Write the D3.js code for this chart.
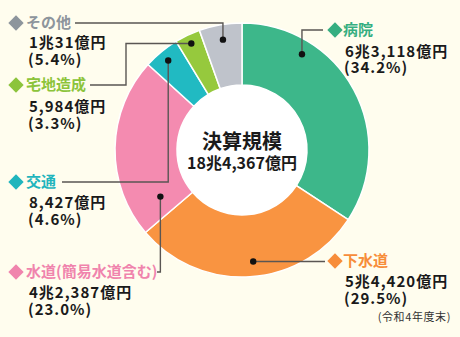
<!DOCTYPE html>
<html><head><meta charset="utf-8">
<script src="https://cdn.jsdelivr.net/npm/d3@7/dist/d3.min.js"></script>
<style>
html,body{margin:0;padding:0;background:#fffdee;}
svg{display:block;font-family:"Noto Sans CJK JP","Noto Sans",sans-serif;}
</style></head>
<body><svg id="c" width="460" height="337"></svg>
<script>
// ---- data ----
const categories = ["病院","下水道","水道(簡易水道含む)","交通","宅地造成","その他"];
const values = [63118, 54420, 42387, 8427, 5984, 10031]; // 億円
const valueLabels = ["6兆3,118億円","5兆4,420億円","4兆2,387億円","8,427億円","5,984億円","1兆31億円"];
const shareLabels = ["(34.2%)","(29.5%)","(23.0%)","(4.6%)","(3.3%)","(5.4%)"];
const centerTitle = "決算規模";
const centerTotal = "18兆4,367億円";
const note = "(令和4年度末)";

// ---- styles / layout ----
const sliceColors = ["#3db78a","#f99441","#f48bb0","#21bac2","#96c93d","#bfc3cb"];
const labelColors = ["#35ae80","#f78d3a","#f084ad","#1fb5bd","#8cc43b","#8d959c"];
const cx = 242, cy = 150, rOuter = 127, rInner = 65;
const anchorFrac = [0.26, 0.48, 0.13, 0.5, 0.5, 0.5];
const anchorR = [113, 112, 94, 116, 118, 112];
const leaderSteps = [
  [["v",30],["h",323]],
  [["h",325]],
  [["v",272],["h",157]],
  [["v",182],["h",62]],
  [["h",126],["v",85],["h",90]],
  [["v",23],["h",75]]
];
const labelPos = [ // diamond x, label y, text x, value/share x, value y, share y
  {dx:335, ly:30,  tx:343, vx:345, vy:52,  sy:68},
  {dx:335, ly:261, tx:343, vx:345, vy:282, sy:299},
  {dx:16,  ly:272, tx:26,  vx:29,  vy:293, sy:310},
  {dx:16,  ly:182, tx:26,  vx:29,  vy:203, sy:220},
  {dx:16,  ly:85,  tx:26,  vx:29,  vy:107, sy:124},
  {dx:16,  ly:23,  tx:26,  vx:29,  vy:43,  sy:60}
];

const svg = d3.select("#c");
const g = svg.append("g").attr("transform", `translate(${cx},${cy})`);
const pie = d3.pie().sort(null).value(d => d)(values);
const arc = d3.arc().innerRadius(rInner).outerRadius(rOuter);

g.selectAll("path.slice").data(pie).join("path")
  .attr("class","slice")
  .attr("d", arc)
  .attr("fill", (d,i) => sliceColors[i])
  .attr("stroke", "#ffffff").attr("stroke-width", 1.5);

g.append("circle").attr("r", rInner).attr("fill", "#ffffff");

// leader lines + dots
pie.forEach((d,i) => {
  const a = d.startAngle + (d.endAngle - d.startAngle) * anchorFrac[i];
  const x = cx + anchorR[i] * Math.sin(a);
  const y = cy - anchorR[i] * Math.cos(a);
  const pts = [[x,y]];
  let px = x, py = y;
  leaderSteps[i].forEach(([t,v]) => { if (t === "v") py = v; else px = v; pts.push([px,py]); });
  svg.append("path").attr("d", d3.line()(pts))
    .attr("fill","none").attr("stroke","#5a5653").attr("stroke-width",1.4);
  svg.append("circle").attr("cx",x).attr("cy",y).attr("r",3.2).attr("fill","#111");
});

// labels
categories.forEach((c,i) => {
  const p = labelPos[i];
  svg.append("path")
    .attr("d", d3.symbol(d3.symbolDiamond2, 150)())
    .attr("transform", `translate(${p.dx},${p.ly})`)
    .attr("fill", labelColors[i]);
  svg.append("text").attr("x", p.tx).attr("y", p.ly).attr("dy","0.36em")
    .attr("font-size", 15).attr("font-weight", 700).attr("fill", labelColors[i])
    .text(c);
  svg.append("text").attr("x", p.vx).attr("y", p.vy).attr("dy","0.36em")
    .attr("font-size", 15).attr("font-weight", 700).attr("fill", "#1a1a1a")
    .attr("letter-spacing", 1).text(valueLabels[i]);
  svg.append("text").attr("x", p.vx - 1).attr("y", p.sy).attr("dy","0.36em")
    .attr("font-size", 15).attr("font-weight", 700).attr("fill", "#1a1a1a")
    .attr("letter-spacing", 1).text(shareLabels[i]);
});

svg.append("text").attr("x", cx).attr("y", 142).attr("dy","0.36em")
  .attr("text-anchor","middle").attr("font-size", 20).attr("font-weight", 700)
  .attr("fill","#1a1a1a").text(centerTitle);
svg.append("text").attr("x", cx).attr("y", 163).attr("dy","0.36em")
  .attr("text-anchor","middle").attr("font-size", 16).attr("font-weight", 700)
  .attr("fill","#1a1a1a").text(centerTotal);
svg.append("text").attr("x", 451).attr("y", 317).attr("dy","0.36em")
  .attr("text-anchor","end").attr("font-size", 11).attr("letter-spacing", 0.6)
  .attr("fill","#333").text(note);
</script>
</body></html>
